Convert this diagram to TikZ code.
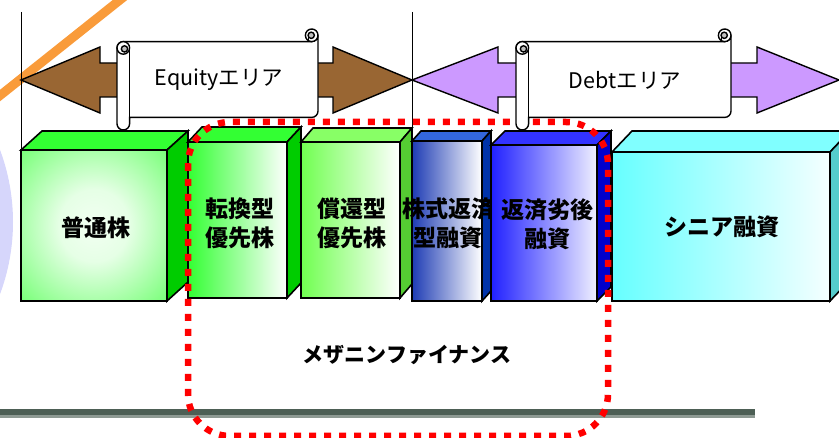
\documentclass[tikz,border=0pt]{standalone}
\usepackage{fontspec}
\setmainfont{Noto Sans CJK JP}
\newfontfamily\jpfont{Noto Sans CJK JP}
\definecolor{brownarrow}{HTML}{996633}
\definecolor{debtarrow}{HTML}{CC99FF}
\definecolor{bandorange}{HTML}{F99B3A}
\definecolor{lavbg}{HTML}{D6D6FB}
\definecolor{gtop}{HTML}{33FF33}
\definecolor{gside}{HTML}{00CC00}
\definecolor{gthreetop}{HTML}{88FF66}
\definecolor{gthreeside}{HTML}{55CC33}
\definecolor{gthreefront}{HTML}{70FF50}
\definecolor{bfourtop}{HTML}{3366DD}
\definecolor{bfourside}{HTML}{0033AA}
\definecolor{bfourfront}{HTML}{1E3CB4}
\definecolor{bfivetop}{HTML}{3333FF}
\definecolor{bfiveside}{HTML}{0000CC}
\definecolor{bfivefront}{HTML}{2020FF}
\definecolor{csixtop}{HTML}{80FFFF}
\definecolor{csixside}{HTML}{55CCCC}
\definecolor{csixfront}{HTML}{66FFFF}
\definecolor{bardark}{HTML}{4D5F55}
\definecolor{barlight}{HTML}{8E9A93}
\definecolor{scrollgray}{HTML}{C0C0C0}
\pgfdeclareradialshading{greenglow}{\pgfpoint{0bp}{0bp}}{rgb(0bp)=(0.95,1,0.95); rgb(12bp)=(0.9,1,0.9); rgb(46bp)=(0.28,1,0.28); rgb(71bp)=(0.2,1,0.2)}
\tikzset{
  boxline/.style={draw=black, line width=1.6pt, line join=miter},
  scrollline/.style={draw=black, line width=1.4pt},
  arrowshape/.style={draw=black, line width=1.4pt, line join=miter},
  lbl/.style={align=center, inner sep=0pt, font={\jpfont\bfseries\fontsize{23}{29}\selectfont}},
  scrolltext/.style={inner sep=0pt, font={\jpfont\fontsize{21.5}{24}\selectfont}},
  mezzline/.style={draw=red, line width=6.5pt, dash pattern=on 7pt off 8pt, rounded corners=42pt},
}
\newcommand{\mycube}[8]{%
  \filldraw[boxline,fill=#7] (#1,#2) -- ({#1+#5},{#2-#6}) -- ({#3+#5},{#2-#6}) -- (#3,#2) -- cycle;
  \filldraw[boxline,fill=#8] (#3,#2) -- ({#3+#5},{#2-#6}) -- ({#3+#5},{#4-#6}) -- (#3,#4) -- cycle;
}
\newcommand{\myscroll}[4]{%
  \filldraw[scrollline,fill=white] (#3,{#2+6.3}) arc[start angle=0,end angle=90,radius=6.3]
    -- ({#1+6.3},{#2+12.6}) arc[start angle=270,end angle=180,radius=6.3]
    -- (#1,{#4-6.3}) arc[start angle=180,end angle=0,radius=6.3]
    -- ({#1+12.6},{#4-12.6}) -- ({#3-6.3},{#4-12.6}) arc[start angle=90,end angle=0,radius=6.3] -- cycle;
  \filldraw[scrollline,fill=white] ({#3-6.3},{#2+6.3}) circle[radius=6.3];
  \filldraw[scrollline,fill=scrollgray] ({#3-6.8},{#2+6.3}) circle[radius=3.15];
  \draw[scrollline] ({#3-9.5},{#2+6.3}) -- ({#3-9.5},{#2+12.6});
  \filldraw[scrollline,fill=white] ({#1+6.3},{#2+18.9}) circle[radius=6.3];
  \filldraw[scrollline,fill=scrollgray] ({#1+7.5},{#2+19.9}) circle[radius=3.15];
  \draw[scrollline] ({#1+12.6},{#2+18.9}) -- ({#1+12.6},{#4-12.6});
}
\begin{document}
\begin{tikzpicture}[x=1pt,y=-1pt]
\useasboundingbox (0,0) rectangle (839,438);
\begin{scope}
\clip (0,0) rectangle (839,438);
% background decorations
\fill[lavbg] (-193,222) circle[radius=206];
\draw[bandorange, line width=9pt] (-10,103.5) -- (135,-12);
% vertical separators
\coordinate (vaTop) at (21,12);  \coordinate (vaBot) at (21,150);
\coordinate (vbTop) at (412,12); \coordinate (vbBot) at (412,131);
\draw[line width=1pt] (vaTop) -- (vaBot);
\draw[line width=1pt] (vbTop) -- (vbBot);
% arrows
\filldraw[arrowshape, fill=brownarrow] (21,80) -- (100,47) -- (100,63) -- (333,63) -- (333,47) -- (412,80)
   -- (333,113) -- (333,97) -- (100,97) -- (100,113) -- cycle;
\filldraw[arrowshape, fill=debtarrow] (412,80) -- (498,47) -- (498,63) -- (757,63) -- (757,47) -- (839,80)
   -- (757,113) -- (757,97) -- (498,97) -- (498,113) -- cycle;
% box 1
\mycube{21}{150}{167}{301}{21}{19}{gtop}{gside}
\shade[shading=greenglow] (21,150) rectangle (167,301);
\draw[boxline] (21,150) rectangle (167,301);
\node[lbl] (futsu) at (96,228) {普通株};
% box 2
\mycube{188}{142}{287}{298}{14}{15}{gtop}{gside}
\shade[left color=gtop, right color=white] (188,142) rectangle (287,298);
\draw[boxline] (188,142) rectangle (287,298);
\node[lbl] (tenkan) at (240,223) {転換型\\優先株};
% box 3
\mycube{301}{142}{400}{298}{12}{14}{gthreetop}{gthreeside}
\shade[left color=gthreefront, right color=white] (301,142) rectangle (400,298);
\draw[boxline] (301,142) rectangle (400,298);
\node[lbl] (shokan) at (352,223) {償還型\\優先株};
% box 4
\mycube{412}{141}{482}{301}{9}{10}{bfourtop}{bfourside}
\shade[left color=bfourfront, right color=white] (412,141) rectangle (482,301);
\draw[boxline] (412,141) rectangle (482,301);
\node[lbl] (kabushiki) at (448,223) {株式返済\\型融資};
% box 5
\mycube{491}{145}{597}{301}{14}{14}{bfivetop}{bfiveside}
\shade[left color=bfivefront, right color=white!94!blue] (491,145) rectangle (597,301);
\draw[boxline] (491,145) rectangle (597,301);
\node[lbl] (rekko) at (547,224) {返済劣後\\融資};
% box 6
\mycube{612}{152}{830}{301}{20}{21}{csixtop}{csixside}
\shade[left color=csixfront, right color=white!96!cyan] (612,152) rectangle (830,301);
\draw[boxline] (612,152) rectangle (830,301);
\node[lbl] (senior) at (722,227) {シニア融資};
% bottom bar
\fill[bardark] (0,409) rectangle (755,415);
\fill[barlight] (0,415) rectangle (755,418);
% mezzanine label and frame
\node[lbl, font={\jpfont\bfseries\fontsize{21}{24}\selectfont}] (mezz) at (407,355) {メザニンファイナンス};
\draw[mezzline] (188,122) rectangle (608,436);
% scrolls
\myscroll{117}{29}{318}{130}
\node[scrolltext] (equity) at (219,80) {Equityエリア};
\myscroll{516}{29}{731}{130}
\node[scrolltext] (debt) at (625,80) {Debtエリア};
\end{scope}
\end{tikzpicture}
\end{document}
